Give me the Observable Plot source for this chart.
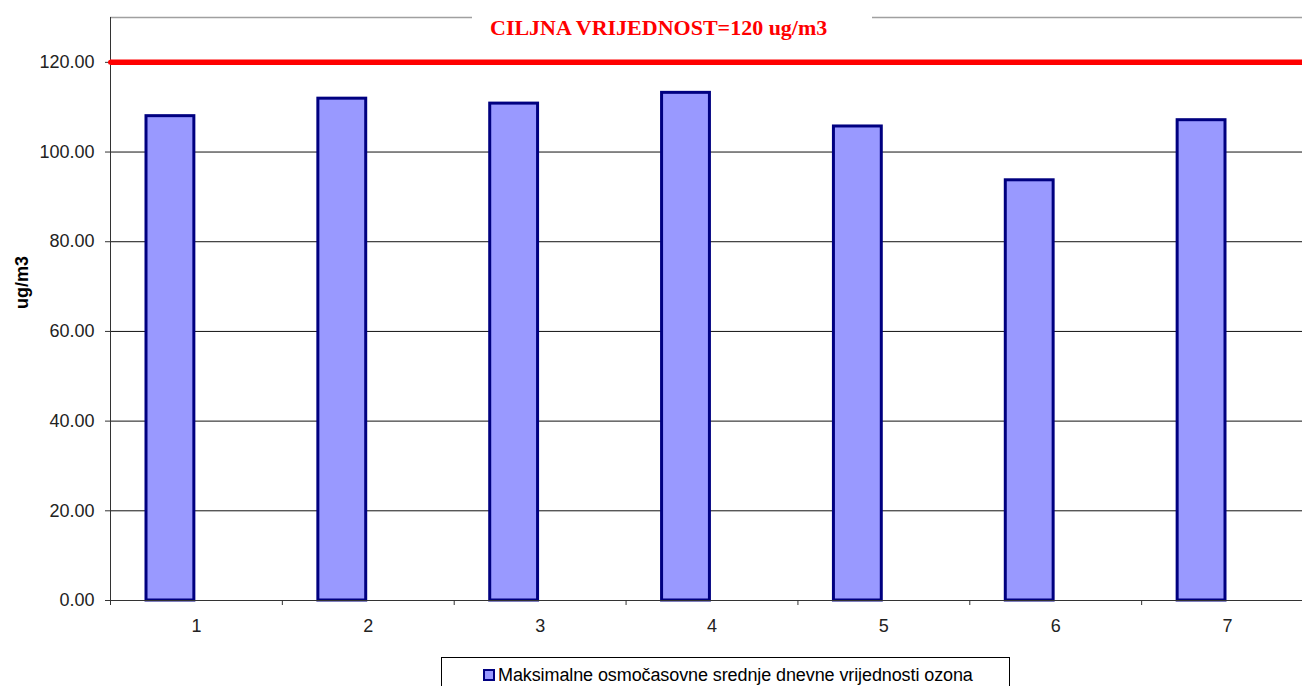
<!DOCTYPE html>
<html>
<head>
<meta charset="utf-8">
<script src="https://cdn.jsdelivr.net/npm/d3@7"></script>
<script src="https://cdn.jsdelivr.net/npm/@observablehq/plot@0.6"></script>
<style>
  html, body { margin: 0; padding: 0; background: #fff; overflow: hidden; }
  #wrap { position: relative; width: 1313px; height: 686px; }
  #title {
    position: absolute; left: 472px; top: 14.6px; width: 382px; padding-left: 18px;
    height: 22px; line-height: 22px; background: #fff;
    font: bold 22px "Liberation Serif", "Times New Roman", serif; color: #ff0000;
    white-space: nowrap;
  }
  #legend {
    position: absolute; left: 441px; top: 657px; width: 567px; height: 40px;
    border: 1px solid #000; background: #fff;
    font: 18px "Liberation Sans", Arial, sans-serif; color: #000;
  }
  #legend .sw {
    position: absolute; left: 41px; top: 11px; width: 8px; height: 8px;
    background: #9999ff; border: 2px solid #000080;
  }
  #legend .lab { position: absolute; left: 56px; top: 6px; line-height: 22px; white-space: nowrap; letter-spacing: -0.1px; }
</style>
</head>
<body>
<div id="wrap">
  <div id="chart"></div>
  <div id="title"></div>
  <div id="legend"><span class="sw"></span><span class="lab"></span></div>
</div>
<script>
// Station days and their maximum 8-hour mean ozone values (ug/m3)
const categories = [1, 2, 3, 4, 5, 6, 7];
const ozone = [108.0, 111.9, 110.8, 113.2, 105.7, 93.7, 107.1];
const target = 120;
const yTicks = [0, 20, 40, 60, 80, 100, 120];
const yMax = 130;
const titleText = "CILJNA VRIJEDNOST=120 ug/m3";
const yLabel = "ug/m3";
const seriesName = "Maksimalne osmočasovne srednje dnevne vrijednosti ozona";

const W = 1313, H = 650, ML = 110, MT = 17, MB = 50;
const bw = (W - ML) / categories.length;
const data = categories.map((c, i) => ({c, v: ozone[i]}));

const chart = Plot.plot({
  width: W,
  height: H,
  marginLeft: ML,
  marginRight: 0,
  marginTop: MT,
  marginBottom: MB,
  style: {fontFamily: "'Liberation Sans', Arial, sans-serif", fontSize: "18px", color: "#222", background: "#fff"},
  x: {domain: categories, padding: 0, round: false, axis: null},
  y: {domain: [0, yMax], axis: null},
  marks: [
    Plot.gridY(yTicks.filter(t => t > 0 && t < target), {stroke: "#111", strokeOpacity: 1}),
    Plot.ruleY([yMax], {stroke: "#a0a0a0", strokeWidth: 1.5}),
    Plot.barY(data, {x: "c", y: "v", fill: "#9999ff", stroke: "#000080", strokeWidth: 3, insetLeft: 36, insetRight: 88}),
    Plot.ruleY([0], {stroke: "#333"}),
    Plot.ruleX([categories[0]], {dx: -bw / 2, y1: 0, y2: yMax, stroke: "#333"}),
    Plot.axisY({ticks: yTicks, tickFormat: d => d.toFixed(2), tickSize: 5, tickPadding: 11, label: null, stroke: "#333"}),
    Plot.axisX({tickSize: 0, tickPadding: 19, label: null}),
    Plot.axisX({tickSize: 5, tickFormat: () => "", dx: -bw / 2, label: null, stroke: "#333"}),
    Plot.ruleY([target], {stroke: "#ff0000", strokeWidth: 5.5}),
    Plot.dot([{c: categories[0], v: target}], {x: "c", y: "v", dx: -bw / 2, r: 2.5, fill: "#ff0000", stroke: null}),
    Plot.text([yLabel], {frameAnchor: "left", dx: -88, rotate: -90, fontWeight: "bold", fill: "#000"})
  ]
});

document.getElementById("chart").append(chart);
document.getElementById("title").textContent = titleText;
document.querySelector("#legend .lab").textContent = seriesName;
</script>
</body>
</html>
